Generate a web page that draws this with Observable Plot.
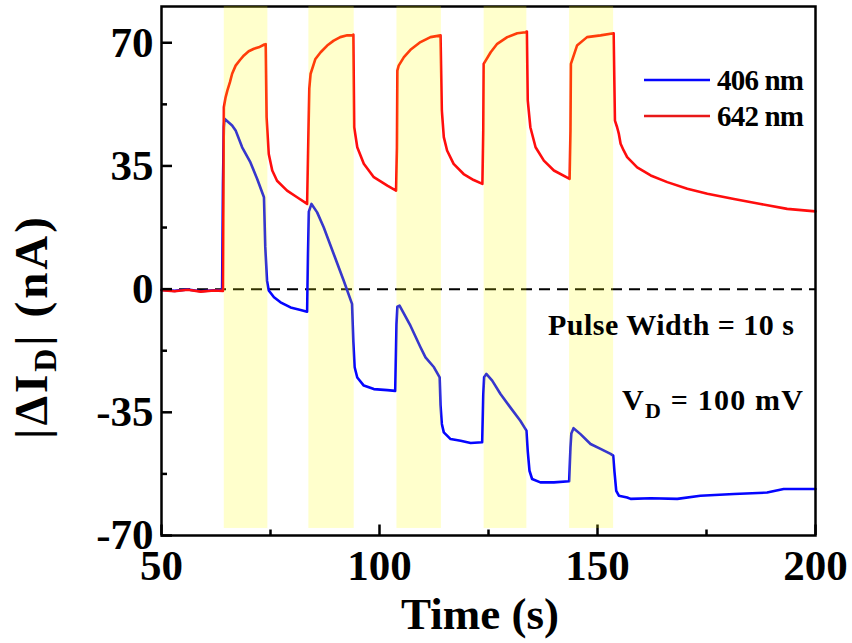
<!DOCTYPE html>
<html>
<head>
<meta charset="utf-8">
<script src="https://cdn.jsdelivr.net/npm/d3@7"></script>
<script src="https://cdn.jsdelivr.net/npm/@observablehq/plot@0.6"></script>
<style>
  html, body { margin: 0; padding: 0; background: #fff; }
  #chart { width: 852px; height: 643px; }
</style>
</head>
<body>
<div id="chart"></div>
<script>
const FONT = "'Liberation Serif', 'Times New Roman', serif";

// Photocurrent change |ΔI_D| (nA) versus time (s) under 10 s light pulses
const t406 = [50, 53, 56, 59, 62, 63.9,
  64.1, 64.3, 64.45, 66.2, 67.0, 68.5, 70.4, 71.95, 73.5,
  73.8, 74.2, 74.6, 75.8, 77.3, 79.6, 81.9, 83.4,
  83.6, 83.8, 84.4, 85.7, 87.2, 89.5, 91.8, 93.7,
  94.0, 94.3, 94.9, 96.4, 98.7, 101.8, 103.6,
  103.9, 104.1, 104.6, 107.1, 109.4, 110.55, 112.5, 113.8,
  114.0, 114.3, 114.75, 116.3, 118.6, 120.9, 123.55,
  123.8, 124.0, 124.5, 125.85, 127.75, 130.0, 132.3, 133.7,
  134.0, 134.4, 135.0, 136.9, 140.0, 143.5,
  143.8, 144.0, 144.5, 146.1, 148.4, 150.7, 153.0, 153.6,
  153.9, 154.3, 154.9, 156.8, 157.6, 162.2, 168.3, 173.6, 181.3, 188.9, 192.7, 200];
const i406 = [-0.2, -0.5, -0.1, -0.6, -0.3, -0.3,
  30, 46, 48.4, 46.5, 45.1, 40.3, 36.0, 31.3, 26.1,
  12, 2.4, -0.4, -2.3, -3.75, -5.2, -5.9, -6.4,
  10, 22, 24.2, 21.8, 17.6, 10.0, 2.4, -4.2,
  -15, -22.2, -25.1, -27.4, -28.4, -28.7, -28.9,
  -10, -5, -4.7, -10.4, -16.5, -19.4, -22.2, -25.1,
  -33, -38.3, -40.7, -42.6, -43.1, -43.7, -43.5,
  -30, -25, -24.1, -26.0, -29.8, -33.6, -37.4, -40.2,
  -46, -51.6, -53.95, -54.9, -54.9, -54.6,
  -45, -41, -39.5, -41.2, -44.0, -45.4, -46.8, -47.3,
  -52, -57.3, -58.7, -59.2, -59.6, -59.4, -59.6, -58.7, -58.2, -57.8, -56.8, -56.8];

const t642 = [50, 53, 56, 59, 62, 64.1,
  64.3, 64.7, 65.1, 65.7, 66.2, 67.0, 68.0, 68.9, 70.0, 71.2, 72.3, 73.6, 73.9,
  74.1, 74.6, 75.4, 76.5, 78.8, 81.1, 83.4,
  83.6, 83.9, 84.2, 85.3, 86.5, 88.0, 89.5, 91.0, 92.6, 93.7, 94.0,
  94.2, 94.9, 96.4, 98.7, 101.8, 103.8,
  104.0, 104.1, 104.4, 105.6, 107.1, 109.4, 111.7, 114.0,
  114.3, 114.75, 115.5, 117.0, 119.3, 121.6, 123.6,
  123.8, 123.9, 125.5, 127.0, 129.3, 131.6, 133.5, 133.8,
  134.0, 134.6, 135.8, 137.7, 140.0, 143.6,
  143.8, 143.9, 145.3, 147.6, 150.7, 153.7,
  154.0, 154.5, 154.9, 155.3, 156.0, 156.8, 159.1, 162.2, 166.0, 170.6, 175.2, 181.3, 187.4, 193.5, 200];
const i642 = [-0.3, -0.6, -0.2, -0.7, -0.4, -0.5,
  51.7, 54.5, 56.4, 58.8, 61.2, 63.5, 65.1, 66.4, 67.6, 68.3, 68.7, 69.5, 69.6,
  48.8, 38.4, 33.7, 30.8, 28.0, 26.1, 24.2,
  37.5, 57, 61.2, 65.4, 67.3, 69.2, 70.6, 71.6, 72.1, 72.1, 72.3,
  46, 40.3, 35.6, 31.8, 29.4, 28.0,
  40, 62.1, 63.5, 65.9, 68.0, 70.2, 71.6, 72.1,
  50.7, 43.2, 39.4, 35.6, 32.7, 31.0, 29.9,
  45, 64.0, 67.3, 69.7, 71.6, 72.7, 73.0, 73.2,
  53.6, 46, 40.3, 36.5, 33.7, 31.3,
  45, 64.0, 69.2, 71.6, 72.1, 72.7,
  47.9, 46, 44.1, 41.3, 39.4, 37.5, 34.6, 32.3, 30.4, 28.5, 27.1, 25.6, 24.2, 22.8, 22.1];

// Light-on intervals (s)
const pulseStart = [64.4, 83.8, 104.0, 124.0, 143.6];
const pulseEnd   = [74.4, 94.2, 114.2, 133.8, 153.7];

// Axis ticks
const xTicks = [50, 100, 150, 200];
const xMinor = [75, 125, 175];
const yTicks = [-70, -35, 0, 35, 70];
const yMinor = [-52.5, -17.5, 17.5, 52.5];

const yTop = 80.3;
const series406 = t406.map((t, i) => ({t, v: i406[i]}));
const series642 = t642.map((t, i) => ({t, v: i642[i]}));
const pulses = pulseStart.map((s, i) => ({start: s, end: pulseEnd[i]}));

const W = 852, H = 643;
const mL = 161, mR = 37, mT = 6, mB = 108;
const innerW = W - mL - mR, innerH = H - mT - mB;

const plot = Plot.plot({
  width: W, height: H,
  marginLeft: mL, marginRight: mR, marginTop: mT, marginBottom: mB,
  x: {domain: [50, 200]},
  y: {domain: [-70, yTop]},
  style: {fontFamily: FONT, background: "white", color: "black"},
  marks: [
    Plot.ruleY([0], {stroke: "black", strokeWidth: 2, strokeDasharray: "11,7"}),
    Plot.line(series406, {x: "t", y: "v", stroke: "#0505ff", strokeWidth: 2.6}),
    Plot.line(series642, {x: "t", y: "v", stroke: "#ff0d0d", strokeWidth: 2.6}),
    Plot.frame({stroke: "black", strokeWidth: 2.5}),
    // inward ticks
    Plot.tickX(xTicks, {x: d => d, insetTop: innerH - 10.5, stroke: "black", strokeWidth: 2.5}),
    Plot.tickX(xMinor, {x: d => d, insetTop: innerH - 5.5, stroke: "black", strokeWidth: 2.5}),
    Plot.tickY(yTicks, {y: d => d, insetRight: innerW - 11, stroke: "black", strokeWidth: 2.5}),
    Plot.tickY(yMinor, {y: d => d, insetRight: innerW - 6, stroke: "black", strokeWidth: 2.5}),
    Plot.axisX({ticks: xTicks, tickSize: 0, tickPadding: 14, fontSize: 43, fontWeight: "bold", label: null, tickFormat: d => String(d)}),
    Plot.axisY({ticks: yTicks, tickSize: 0, tickPadding: 8, fontSize: 43, fontWeight: "bold", label: null, tickFormat: d => String(d)}),
    // translucent light-on bands over everything
    Plot.rect(pulses, {x1: "start", x2: "end", y1: () => -68, y2: () => yTop, fill: "#ffff00", fillOpacity: 0.2})
  ]
});

const svg = d3.select(plot);
const txt = (x, y, anchor) => svg.append("text")
  .attr("x", x).attr("y", y).attr("text-anchor", anchor)
  .attr("font-family", FONT).attr("font-weight", "bold").attr("fill", "black");

// axis titles
txt(480, 629, "middle").attr("font-size", 45).text("Time (s)");

const yl = svg.append("text")
  .attr("transform", "translate(47,328) rotate(-90)")
  .attr("text-anchor", "middle")
  .attr("textLength", 222).attr("lengthAdjust", "spacing")
  .attr("font-family", FONT).attr("font-weight", "bold").attr("font-size", 47).attr("fill", "black");
yl.append("tspan").text("|ΔI");
yl.append("tspan").attr("font-size", 32).attr("dy", 9).text("D");
yl.append("tspan").attr("dy", -9).text("| (nA)");

// legend
const legend = [{label: "406 nm", color: "#0505ff", y: 80}, {label: "642 nm", color: "#e81818", y: 116}];
legend.forEach(d => {
  svg.append("line").attr("x1", 644).attr("x2", 710).attr("y1", d.y).attr("y2", d.y)
    .attr("stroke", d.color).attr("stroke-width", 2.7);
  txt(717, d.y + 10, "start").attr("font-size", 29).attr("textLength", 87).attr("lengthAdjust", "spacing").text(d.label);
});

// annotations
txt(794, 335, "end").attr("font-size", 30)
  .attr("textLength", 246).attr("lengthAdjust", "spacing").text("Pulse Width = 10 s");
const vd = txt(622, 410, "start").attr("font-size", 30).attr("textLength", 181).attr("lengthAdjust", "spacing");
vd.append("tspan").text("V");
vd.append("tspan").attr("font-size", 22).attr("dy", 8).text("D");
vd.append("tspan").attr("dy", -8).text(" = 100 mV");

document.getElementById("chart").appendChild(plot);
</script>
</body>
</html>
